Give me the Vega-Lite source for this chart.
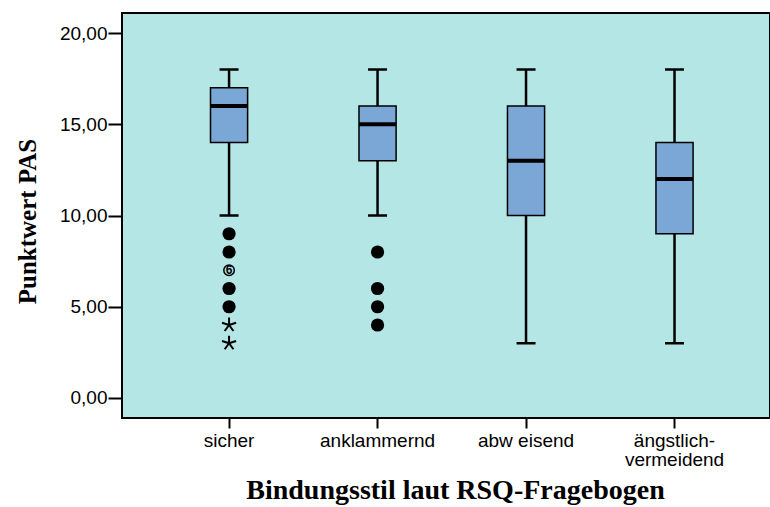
{
  "$schema": "https://vega.github.io/schema/vega-lite/v6.json",
  "width": 648,
  "height": 405,
  "autosize": "none",
  "padding": {"left": 122, "top": 13, "right": 0, "bottom": 89},
  "background": "white",
  "config": {
    "view": {"fill": "#b4e6e6", "stroke": "black", "strokeWidth": 2},
    "font": "Liberation Sans"
  },
  "datasets": {
    "boxen": [
      {"stil": "sicher", "min": 10, "q1": 14, "median": 16, "q3": 17, "max": 18},
      {"stil": "anklammernd", "min": 10, "q1": 13, "median": 15, "q3": 16, "max": 18},
      {"stil": "abw eisend", "min": 3, "q1": 10, "median": 13, "q3": 16, "max": 18},
      {"stil": "ängstlich-vermeidend", "min": 3, "q1": 9, "median": 12, "q3": 14, "max": 18}
    ],
    "ausreisser": [
      {"stil": "sicher", "wert": 9, "art": "o"},
      {"stil": "sicher", "wert": 8, "art": "o"},
      {"stil": "sicher", "wert": 7, "art": "fall", "fall": "6"},
      {"stil": "sicher", "wert": 6, "art": "o"},
      {"stil": "sicher", "wert": 5, "art": "o"},
      {"stil": "sicher", "wert": 4, "art": "extrem"},
      {"stil": "sicher", "wert": 3, "art": "extrem"},
      {"stil": "anklammernd", "wert": 8, "art": "o"},
      {"stil": "anklammernd", "wert": 6, "art": "o"},
      {"stil": "anklammernd", "wert": 5, "art": "o"},
      {"stil": "anklammernd", "wert": 4, "art": "o"}
    ]
  },
  "encoding": {
    "x": {
      "field": "stil",
      "type": "nominal",
      "scale": {
        "domain": ["sicher", "anklammernd", "abw eisend", "ängstlich-vermeidend"],
        "paddingInner": 0.75,
        "paddingOuter": 0.557,
        "align": 0.535
      },
      "axis": {
        "title": "Bindungsstil laut RSQ-Fragebogen",
        "titleFont": "Liberation Serif",
        "titleFontWeight": "bold",
        "titleFontSize": 28,
        "titleColor": "black",
        "titleX": 333,
        "titleY": 80,
        "titleAlign": "center",
        "titleBaseline": "alphabetic",
        "labelAngle": 0,
        "labelFontSize": 19,
        "labelColor": "black",
        "labelPadding": 3,
        "labelLineHeight": 19,
        "labelBaseline": "top",
        "labelExpr": "datum.value == 'ängstlich-vermeidend' ? ['ängstlich-', 'vermeidend'] : datum.value",
        "tickSize": 10,
        "tickWidth": 2,
        "tickColor": "black",
        "domain": false,
        "grid": false
      }
    }
  },
  "layer": [
    {
      "data": {"name": "boxen"},
      "mark": {"type": "rule", "color": "black", "strokeWidth": 2.5},
      "encoding": {
        "y": {
          "field": "min",
          "type": "quantitative",
          "scale": {"domain": [-1.096, 21.096], "nice": false, "zero": false},
          "axis": {
            "title": "Punktwert PAS",
            "titleFont": "Liberation Serif",
            "titleFontWeight": "bold",
            "titleFontSize": 25,
            "titleColor": "black",
            "titleAngle": -90,
            "titleX": -95,
            "titleY": 208,
            "titleAlign": "center",
            "titleBaseline": "middle",
            "values": [0, 5, 10, 15, 20],
            "labelExpr": "replace(format(datum.value, '.2f'), '.', ',')",
            "labelFontSize": 19,
            "labelColor": "black",
            "labelPadding": 1,
            "tickSize": 14,
            "tickWidth": 2,
            "tickColor": "black",
            "domain": false,
            "grid": false
          }
        },
        "y2": {"field": "max"}
      }
    },
    {
      "data": {"name": "boxen"},
      "mark": {"type": "bar", "fill": "#7ba7d7", "stroke": "black", "strokeWidth": 1.5},
      "encoding": {
        "y": {"field": "q1", "type": "quantitative"},
        "y2": {"field": "q3"}
      }
    },
    {
      "data": {"name": "boxen"},
      "mark": {"type": "tick", "color": "black", "size": 37, "thickness": 4, "opacity": 1},
      "encoding": {
        "y": {"field": "median", "type": "quantitative"}
      }
    },
    {
      "data": {"name": "boxen"},
      "mark": {"type": "tick", "color": "black", "size": 19, "thickness": 2.5, "opacity": 1},
      "encoding": {
        "y": {"field": "max", "type": "quantitative"}
      }
    },
    {
      "data": {"name": "boxen"},
      "mark": {"type": "tick", "color": "black", "size": 19, "thickness": 2.5, "opacity": 1},
      "encoding": {
        "y": {"field": "min", "type": "quantitative"}
      }
    },
    {
      "data": {"name": "ausreisser"},
      "transform": [{"filter": "datum.art == 'o'"}],
      "mark": {"type": "point", "shape": "circle", "filled": true, "color": "black", "size": 175, "opacity": 1},
      "encoding": {
        "y": {"field": "wert", "type": "quantitative"}
      }
    },
    {
      "data": {"name": "ausreisser"},
      "transform": [{"filter": "datum.art == 'fall'"}],
      "mark": {"type": "point", "shape": "circle", "filled": false, "color": "black", "strokeWidth": 1.5, "size": 110, "opacity": 1},
      "encoding": {
        "y": {"field": "wert", "type": "quantitative"}
      }
    },
    {
      "data": {"name": "ausreisser"},
      "transform": [{"filter": "datum.art == 'fall'"}],
      "mark": {"type": "text", "color": "black", "fontSize": 12, "fontWeight": "bold", "baseline": "middle", "align": "center"},
      "encoding": {
        "y": {"field": "wert", "type": "quantitative"},
        "text": {"field": "fall"}
      }
    },
    {
      "data": {"name": "ausreisser"},
      "transform": [{"filter": "datum.art == 'extrem'"}],
      "mark": {
        "type": "point",
        "shape": "M0,-1L0,0M0,0L0.95,-0.31M0,0L0.59,0.81M0,0L-0.59,0.81M0,0L-0.95,-0.31",
        "filled": false,
        "stroke": "black",
        "strokeWidth": 2,
        "size": 220,
        "opacity": 1
      },
      "encoding": {
        "y": {"field": "wert", "type": "quantitative"}
      }
    }
  ]
}
